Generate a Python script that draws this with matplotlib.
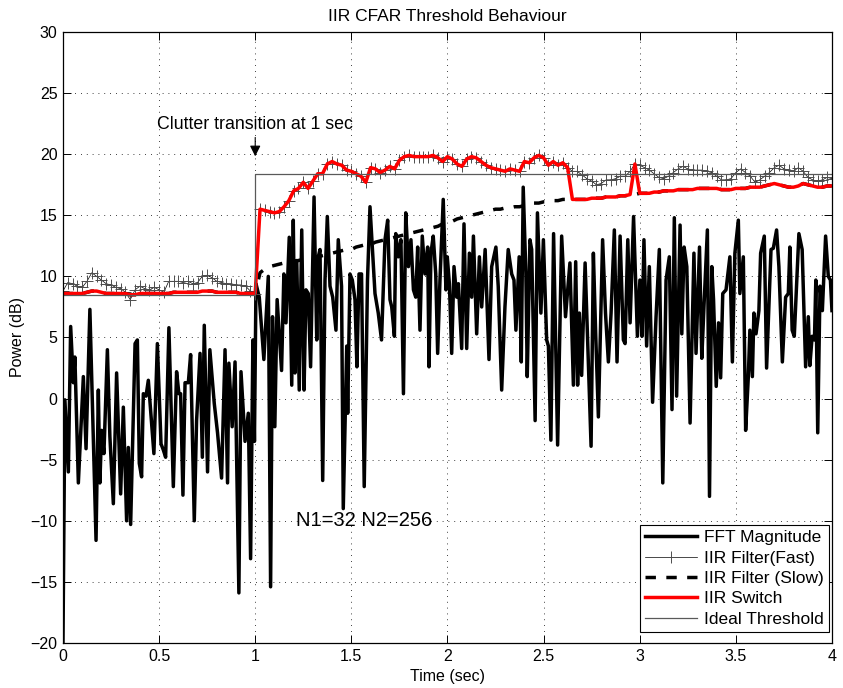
import numpy as np
import matplotlib
matplotlib.use("Agg")
import matplotlib.pyplot as plt

plt.rcParams['font.family'] = ['Liberation Sans', 'DejaVu Sans']

# FFT magnitude (dB) at its turning points
fft_t = [0.000, 0.010, 0.028, 0.040, 0.054, 0.062, 0.080, 0.106, 0.120, 0.140,
         0.172, 0.184, 0.192, 0.201, 0.213, 0.231, 0.244, 0.262, 0.279, 0.300,
         0.314, 0.331, 0.340, 0.352, 0.375, 0.387, 0.397, 0.409, 0.418, 0.432,
         0.444, 0.473, 0.491,
         0.510, 0.522, 0.534, 0.551, 0.574, 0.591, 0.603, 0.612, 0.624, 0.635,
         0.652, 0.664, 0.683, 0.695, 0.713, 0.725, 0.735, 0.752, 0.764, 0.787,
         0.804, 0.825, 0.843, 0.856, 0.863, 0.880, 0.895, 0.915, 0.926, 0.947,
         0.964, 0.976, 0.988, 0.996,
         1.004, 1.021, 1.045, 1.056, 1.068, 1.080, 1.090, 1.102, 1.114, 1.137,
         1.149, 1.160, 1.177, 1.190, 1.198, 1.207, 1.216, 1.229, 1.242, 1.254,
         1.264, 1.276, 1.288, 1.306, 1.320, 1.328, 1.337, 1.351, 1.363, 1.375,
         1.389, 1.403, 1.420, 1.432, 1.449, 1.458, 1.476,
         1.481, 1.493, 1.505, 1.519, 1.529, 1.540, 1.553, 1.567, 1.584, 1.597,
         1.623, 1.640, 1.657, 1.675, 1.689, 1.701, 1.710, 1.724, 1.731, 1.744,
         1.758, 1.771, 1.783, 1.797, 1.810, 1.823, 1.835, 1.845, 1.857, 1.869,
         1.883, 1.897, 1.904, 1.914, 1.926, 1.939, 1.949, 1.961, 1.978,
         1.992, 1.999, 2.010, 2.022, 2.034, 2.048, 2.057, 2.074, 2.086, 2.100,
         2.114, 2.126, 2.135, 2.152, 2.166, 2.178, 2.196, 2.216, 2.230, 2.252,
         2.264, 2.282, 2.299, 2.316, 2.334, 2.346, 2.356, 2.373, 2.384, 2.394,
         2.408, 2.415, 2.429, 2.438, 2.456, 2.468,
         2.486, 2.499, 2.516, 2.525, 2.538, 2.552, 2.573, 2.594, 2.614, 2.637,
         2.655, 2.667, 2.677, 2.686, 2.698, 2.716, 2.730, 2.747, 2.759, 2.771,
         2.785, 2.807, 2.822, 2.837, 2.851, 2.868, 2.882, 2.898, 2.915, 2.924,
         2.938, 2.950, 2.968,
         2.988, 3.001, 3.012, 3.022, 3.036, 3.050, 3.067, 3.085, 3.102, 3.120,
         3.137, 3.154, 3.168, 3.180, 3.192, 3.210, 3.219, 3.231, 3.245, 3.262,
         3.282, 3.293, 3.311, 3.323, 3.335, 3.352, 3.363, 3.375, 3.384, 3.398,
         3.410, 3.421, 3.432, 3.449,
         3.469, 3.482, 3.495, 3.513, 3.521, 3.539, 3.551, 3.565, 3.573, 3.586,
         3.594, 3.605, 3.620, 3.629, 3.648, 3.660, 3.683, 3.695, 3.712, 3.724,
         3.742, 3.759, 3.773, 3.781, 3.793, 3.804, 3.816, 3.828, 3.845, 3.863,
         3.877, 3.885, 3.897, 3.909, 3.916, 3.926, 3.938, 3.950, 3.967, 3.981,
         3.992, 4.000]
fft_db = [-20.0, -0.1, -6.0, 5.9, 1.3, 3.4, -6.9, 1.8, -4.1, 7.3,
          -11.6, 0.7, -6.9, -2.6, -4.5, 4.0, -3.1, -8.6, 2.1, -7.8,
          -0.7, -10.0, -4.0, -10.3, 4.5, 4.8, -5.3, -6.4, 0.4, 0.2,
          1.5, -4.5, 4.5,
          -3.7, -4.2, -4.8, 5.8, -7.2, 2.2, 0.4, 0.4, -7.9, 1.3,
          1.3, 3.6, -10.0, -1.8, 3.7, -4.8, 6.0, -6.0, 4.0, -0.4,
          -2.8, -6.5, 4.0, -6.9, 2.9, -2.3, 3.0, -15.9, 2.2, -3.5,
          -1.2, -13.1, 4.8, -3.5,
          9.4, 8.3, 3.2, 6.4, 10.0, -15.4, 6.7, -2.3, 8.1, 2.3,
          10.2, 6.2, 13.2, 1.1, 14.6, 2.1, 11.3, 0.7, 13.8, 0.7,
          8.9, 8.6, 2.6, 16.5, 4.8, 11.6, 12.2, -6.7, 9.7, 14.9,
          9.2, 8.3, 5.6, 13.0, 9.2, -9.0, 4.3,
          -1.2, 10.2, 9.7, 8.1, 2.6, 10.2, 10.2, -7.2, 9.7, 15.7,
          8.6, 7.0, 4.8, 13.0, 14.6, 8.1, 7.5, 5.1, 13.5, 11.6,
          13.0, 0.4, 15.2, 10.8, 13.0, 8.9, 8.3, 12.4, 5.6, 13.3,
          10.2, 12.4, 2.6, 11.9, 13.3, 10.2, 3.7, 9.7, 16.3,
          8.9, 11.6, 9.4, 3.7, 10.8, 8.3, 9.4, 4.1, 14.3, 4.1,
          11.9, 8.3, 13.3, 5.3, 11.6, 7.5, 12.2, 3.2, 10.8, 12.4,
          9.2, 0.7, 7.5, 12.2, 10.2, 9.7, 5.6, 11.6, 3.0, 17.3,
          10.2, 1.8, 13.0, 12.2, -1.8, 15.2,
          7.0, 13.0, 4.8, 4.3, -3.4, 13.5, -3.8, 13.3, 6.7, 11.1,
          1.1, 11.2, 1.1, 7.0, 1.9, 11.1, 4.3, -3.9, 11.9, 5.3,
          -1.5, 13.0, 7.0, 3.0, 7.0, 13.8, 3.0, 13.3, 4.8, 4.5,
          13.0, 6.2, 14.9,
          5.1, 9.7, 5.1, 13.0, 4.3, 10.8, -0.3, 6.7, 12.2, -6.9,
          9.7, 11.6, -0.9, 14.8, 0.2, 14.2, 5.3, 12.4, 10.8, -2.0,
          11.9, 3.7, 12.4, 3.3, 7.8, 13.8, -8.0, 10.8, 8.1, 1.0,
          6.2, 1.7, 8.6, 8.9,
          11.6, 3.0, 11.9, 14.6, 8.6, 11.6, -2.6, 1.8, 5.6, 1.8,
          7.0, 5.3, 7.2, 11.9, 13.3, 2.5, 12.2, 12.3, 13.8, 10.8,
          3.0, 8.3, 8.6, 12.4, 5.6, 5.1, 9.4, 13.5, 12.2, 2.6,
          6.7, 2.7, 5.1, 4.8, 9.7, -2.8, 9.2, 7.2, 13.3, 10.0,
          9.7, 7.2]

# IIR filter outputs on a 0.025 s grid
filt_t = np.arange(161) * 0.025
fast_db = [8.8, 9.5, 9.4, 9.2, 9.1, 9.6, 10.3, 10.0, 9.7, 9.4,
           9.3, 9.1, 9.0, 8.7, 8.1, 8.9, 9.2, 9.0, 8.9, 9.1,
           8.9, 8.7, 9.6, 9.6, 9.6, 9.5, 9.6, 9.4, 9.5, 10.0,
           10.1, 9.9, 9.6, 9.5, 9.4, 9.4, 9.3, 9.3, 9.2, 8.8,
           8.6, 15.5, 15.4, 15.3, 15.2, 15.3, 15.7, 16.2, 17.0, 17.2,
           17.7, 17.2, 17.8, 18.4, 18.4, 19.2, 19.4, 19.2, 19.1, 18.7,
           18.6, 18.4, 18.2, 17.7, 18.9, 18.8, 18.5, 18.7, 19.0, 18.8,
           19.5, 19.8, 19.9, 19.8, 19.8, 19.8, 19.8, 19.9, 19.7, 19.4,
           19.8, 19.6, 19.2, 19.0, 19.6, 19.8, 19.7, 19.4, 19.1, 18.9,
           18.8, 18.7, 18.6, 18.8, 18.7, 18.6, 19.4, 19.3, 19.7, 19.9,
           19.7, 19.1, 19.4, 19.1, 19.3, 18.9, 18.6, 18.6, 18.3, 18.0,
           17.8, 17.5, 17.6, 17.9, 17.9, 18.0, 18.2, 18.2, 18.6, 19.2,
           19.1, 18.9, 18.7, 18.4, 18.1, 18.0, 18.2, 18.5, 18.8, 19.0,
           18.8, 18.7, 18.7, 18.7, 18.6, 18.5, 18.2, 17.9, 17.9, 18.0,
           18.5, 18.8, 18.5, 18.2, 17.7, 17.9, 18.2, 18.5, 18.9, 19.1,
           18.8, 18.7, 18.6, 18.9, 18.6, 18.1, 17.9, 17.8, 17.9, 18.1,
           18.0]
slow_db = [8.6, 8.6, 8.6, 8.6, 8.6, 8.7, 8.8, 8.8, 8.7, 8.6,
           8.6, 8.6, 8.6, 8.6, 8.5, 8.5, 8.6, 8.6, 8.6, 8.6,
           8.6, 8.6, 8.6, 8.7, 8.7, 8.7, 8.7, 8.7, 8.7, 8.8,
           8.8, 8.8, 8.7, 8.7, 8.7, 8.7, 8.7, 8.6, 8.6, 8.6,
           8.6, 10.3, 10.6, 10.8, 10.9, 11.0, 11.1, 11.2, 11.2, 11.3,
           11.4, 11.5, 11.5, 11.6, 11.7, 11.8, 11.9, 12.0, 12.1, 12.2,
           12.2, 12.4, 12.5, 12.6, 12.6, 12.8, 12.9, 13.0, 13.1, 13.2,
           13.3, 13.4, 13.5, 13.6, 13.7, 13.8, 13.9, 14.0, 14.1, 14.3,
           14.4, 14.5, 14.7, 14.8, 14.9, 15.0, 15.1, 15.2, 15.3, 15.4,
           15.5, 15.5, 15.6, 15.6, 15.7, 15.7, 15.8, 15.9, 16.0, 16.0,
           16.1, 16.1, 16.2, 16.2, 16.3, 16.3, 16.3, 16.3, 16.3, 16.3,
           16.4, 16.4, 16.4, 16.5, 16.5, 16.5, 16.6, 16.6, 16.7, 16.7,
           16.8, 16.8, 16.8, 16.9, 16.9, 17.0, 17.0, 17.0, 17.1, 17.1,
           17.1, 17.1, 17.2, 17.2, 17.2, 17.2, 17.2, 17.1, 17.1, 17.1,
           17.2, 17.2, 17.2, 17.3, 17.3, 17.3, 17.4, 17.5, 17.6, 17.5,
           17.4, 17.3, 17.3, 17.4, 17.6, 17.5, 17.4, 17.3, 17.3, 17.4,
           17.4]

# time spans where the switch uses the fast filter
fast_spans = [(0.99, 2.64), (2.96, 2.99)]

ideal_t = [0.0, 1.0, 1.0, 4.0]
ideal_db = [8.5, 8.5, 18.4, 18.4]

fast_arr = np.array(fast_db)
slow_arr = np.array(slow_db)
use_fast = np.zeros(len(filt_t), dtype=bool)
for a, b in fast_spans:
    use_fast |= (filt_t > a) & (filt_t < b)
switch_db = np.where(use_fast, fast_arr, slow_arr)

fig = plt.figure(figsize=(8.43, 6.88), dpi=100)
ax = fig.add_axes([0.0747, 0.0654, 0.9122, 0.8881])

ax.plot(fft_t, fft_db, color='k', lw=2.5, label='FFT Magnitude')
ax.plot(filt_t, fast_arr, color='k', lw=0.5, marker='+', markersize=8,
        markeredgewidth=0.7, markeredgecolor='0.3', label='IIR Filter(Fast)')
ax.plot(filt_t, slow_arr, color='k', lw=2.5, linestyle=(0, (3, 3)),
        label='IIR Filter (Slow)')
ax.plot(filt_t, switch_db, color='#ff0000', lw=2.5, label='IIR Switch')
ax.plot(ideal_t, ideal_db, color='0.35', lw=0.9, label='Ideal Threshold')

ax.set_xlim(0, 4)
ax.set_ylim(-20, 30)
ax.set_xticks(np.arange(0, 4.01, 0.5))
ax.set_xticklabels(['0', '0.5', '1', '1.5', '2', '2.5', '3', '3.5', '4'])
ax.set_yticks(np.arange(-20, 31, 5))
ax.tick_params(direction='in', top=True, right=True, length=6, width=0.7,
               labelsize=11.5, pad=4)
ax.grid(True, color='k', linestyle=(0, (1, 6)), linewidth=0.6)
for s in ax.spines.values():
    s.set_linewidth(0.9)

ax.set_title('IIR CFAR Threshold Behaviour', fontsize=12.5, pad=8)
ax.set_xlabel('Time (sec)', fontsize=11.5)
ax.set_ylabel('Power (dB)', fontsize=11.5)

ax.text(1.0, 22.4, 'Clutter transition at 1 sec', ha='center', va='center',
        fontsize=12.8)
ax.annotate('', xy=(1.0, 19.6), xytext=(1.0, 21.6),
            arrowprops=dict(arrowstyle='-|>', color='k', lw=0.8,
                            mutation_scale=16))
ax.text(1.21, -10.0, 'N1=32 N2=256', ha='left', va='center', fontsize=14.5)

leg = ax.legend(loc='lower right', bbox_to_anchor=(0.996, 0.018),
                fontsize=12.5, numpoints=1, handlelength=3.0, fancybox=False,
                framealpha=1, edgecolor='k', borderpad=0.3, labelspacing=0.3,
                handletextpad=0.4, borderaxespad=0)
leg.get_frame().set_linewidth(0.8)

fig.savefig('out.png', dpi=100)
